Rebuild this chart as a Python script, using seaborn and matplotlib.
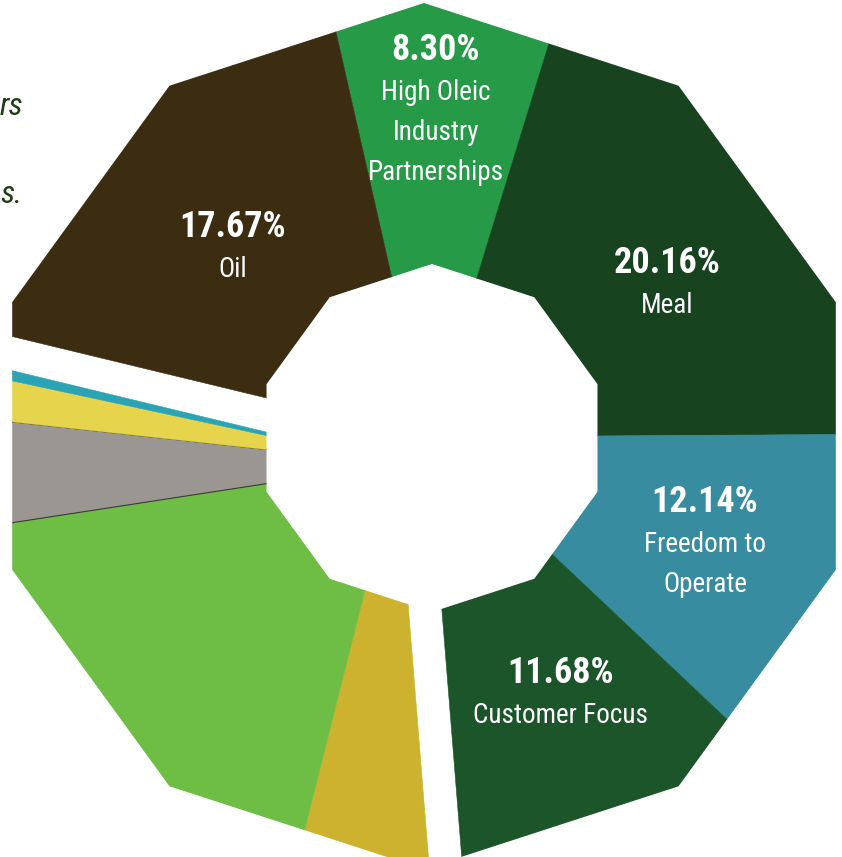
import numpy as np
import matplotlib.pyplot as plt
import seaborn as sns
from matplotlib import font_manager
from matplotlib.path import Path
from matplotlib.patches import Polygon

# shares in %, clockwise from the Oil / High Oleic border
names = ["High Oleic\nIndustry\nPartnerships", "Meal", "Freedom to\nOperate",
         "Customer Focus", "", "", "", "", "", "Oil"]
shares = [8.30, 20.16, 12.14, 11.68, 5.20, 18.65, 4.15, 1.65, 0.40, 17.67]
labelled = [True, True, True, True, False, False, False, False, False, True]
pulled_out = [False, False, False, False, True, True, True, True, True, False]
colors = ["#279a48", "#17431f", "#388ca0", "#1c552a", "#cdb22f",
          "#6ebd45", "#9a9691", "#e6d54c", "#2aa3b5", "#3c2d12"]

# layout (pixels, picture is cropped on the left / bottom)
W, H = 842, 857
START = -12.8
CX, CY = 428, 437
OUT_C, OUT_R = (424, 436), 433
IN_C, IN_R = (432, 438), 174
EXPLODE = 41
label_r = [327, 284, 296, 288, 0, 0, 0, 0, 0, 273]
label_da = [-0.8, 3.9, -0.8, -1.8, 0, 0, 0, 0, 0, -1.2]

sns.set_theme(style="white")

# pick a narrow face if one is there
fam = "DejaVu Sans"
for cand in ["Liberation Sans Narrow", "Roboto Condensed", "Open Sans Condensed",
             "Noto Sans Condensed", "Arial Narrow", "Roboto"]:
    try:
        font_manager.findfont(font_manager.FontProperties(family=cand),
                              fallback_to_default=False)
        fam = cand
        break
    except Exception:
        pass
plt.rcParams["font.family"] = [fam, "DejaVu Sans"]
narrow = fam not in ("Roboto", "DejaVu Sans")

fig = plt.figure(figsize=(W / 100, H / 100), dpi=100)
ax = fig.add_axes([0, 0, 1, 1])
ax.set_xlim(0, W)
ax.set_ylim(H, 0)
ax.axis("off")


def pt(c, r, a):
    a = np.radians(a)
    return c[0] + r * np.sin(a), c[1] - r * np.cos(a)


def decagon(c, r):
    return [pt(c, r, a) for a in range(0, 360, 36)]


# ring shaped clip: outer decagon with a decagon hole
outer = decagon(OUT_C, OUT_R)
inner = decagon(IN_C, IN_R)[::-1]
verts = outer + [outer[0]] + inner + [inner[0]]
codes = ([Path.MOVETO] + [Path.LINETO] * 9 + [Path.CLOSEPOLY]) * 2
ring = Path(verts, codes)

edges = START + 3.6 * np.concatenate([[0], np.cumsum(shares)])
grp = [i for i, p in enumerate(pulled_out) if p]
mid_grp = (edges[grp[0]] + edges[grp[-1] + 1]) / 2
apex_grp = pt((CX, CY), EXPLODE, mid_grp)

big = 26 if narrow else 22
small = 19.5 if narrow else 16.5

for i, (share, col) in enumerate(zip(shares, colors)):
    a0, a1 = edges[i], edges[i + 1]
    apex = apex_grp if pulled_out[i] else (CX, CY)
    angs = np.linspace(a0, a1, max(3, int(abs(a1 - a0)) + 2))
    poly = [apex] + [pt(apex, 1500, a) for a in angs]
    ec = "#3b3835" if col == "#9a9691" else col
    lw = 0.8 if col == "#9a9691" else 0.4
    p = Polygon(poly, closed=True, facecolor=col, edgecolor=ec, linewidth=lw)
    ax.add_patch(p)
    p.set_clip_path(ring, ax.transData)

    if labelled[i]:
        lx, ly = pt((CX, CY), label_r[i], (a0 + a1) / 2 + label_da[i])
        lines = [f"{share:.2f}%"] + names[i].split("\n")
        n = len(lines)
        for k, line in enumerate(lines):
            by = ly + (k - (n - 1) / 2) * 40 + 10
            ax.text(lx, by, line, ha="center", va="baseline", color="white",
                    fontsize=big if k == 0 else small,
                    fontweight="bold" if k == 0 else "normal")

# bits of the page text cut off at the left edge
ax.text(0, 115, "rs", ha="left", va="baseline", fontsize=23,
        style="italic", color="#1f3d14")
ax.text(0, 203, "s.", ha="left", va="baseline", fontsize=23,
        style="italic", color="#1f3d14")

fig.savefig("out.png", dpi=100)
